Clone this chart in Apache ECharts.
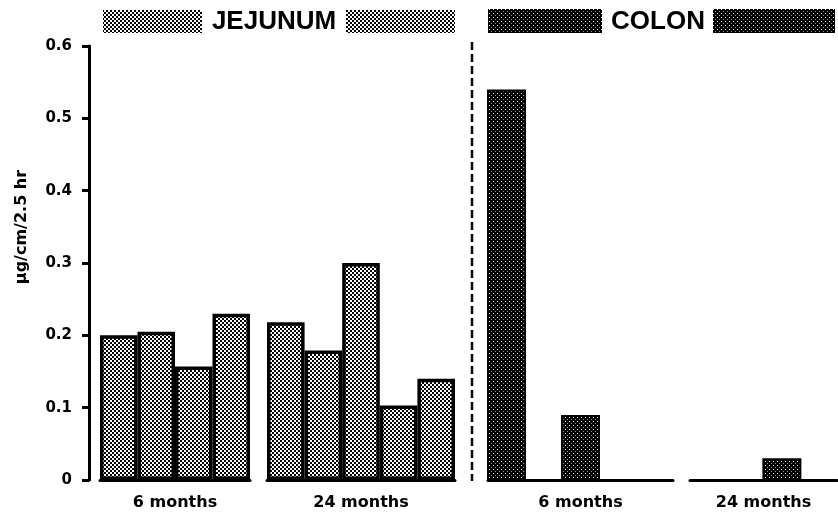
<!DOCTYPE html>
<html>
<head>
<meta charset="utf-8">
<script src="https://cdn.jsdelivr.net/npm/echarts/dist/echarts.min.js"></script>
<style>
  html, body { margin: 0; padding: 0; background: #fff; }
  #chart { width: 838px; height: 514px; }
</style>
</head>
<body>
<div id="chart"></div>
<script>
// Transport values (µg/cm/2.5 hr), one array per tissue and age group
const yMin = 0;
const yMax = 0.6;
const yStep = 0.1;
const groupNames = ['6 months', '24 months', '6 months', '24 months'];
const sectionTitles = ['JEJUNUM', 'COLON'];
const yAxisTitle = 'µg/cm/2.5 hr';

const jejunum6 = [0.200, 0.205, 0.157, 0.230];
const jejunum24 = [0.218, 0.179, 0.300, 0.103, 0.140];
const colon6 = [0.540, 0, 0.090, 0, 0];
const colon24 = [0, 0, 0.030, 0];

// Fill textures
function makePattern(draw, size) {
  const c = document.createElement('canvas');
  c.width = size; c.height = size;
  const ctx = c.getContext('2d');
  draw(ctx);
  return { image: c, repeat: 'repeat' };
}
const lightChecker = makePattern(ctx => {
  ctx.fillStyle = '#fff'; ctx.fillRect(0, 0, 4, 4);
  ctx.fillStyle = '#000';
  ctx.fillRect(0, 0, 2, 2);
  ctx.fillRect(2, 2, 2, 2);
}, 4);
const darkDots = makePattern(ctx => {
  ctx.fillStyle = '#000'; ctx.fillRect(0, 0, 4, 4);
  ctx.fillStyle = '#f0f0f0'; ctx.fillRect(1, 1, 1, 1);
  ctx.fillStyle = '#9a9a9a'; ctx.fillRect(3, 3, 1, 1);
}, 4);

const groups = [
  { data: jejunum6, left: 100, width: 150, fill: lightChecker, border: 3.5, barWidth: null },
  { data: jejunum24, left: 267, width: 188, fill: lightChecker, border: 3.5, barWidth: null },
  { data: colon6, left: 488, width: 185, fill: darkDots, border: 2, barWidth: 39 },
  { data: colon24, left: 690, width: 147, fill: darkDots, border: 2, barWidth: 39 }
];

const TOP = 46, BOTTOM = 34;
const tickFont = { fontFamily: 'DejaVu Sans', fontWeight: 'bold', color: '#000' };

const option = {
  animation: false,
  backgroundColor: '#fff',
  grid: groups.map(g => ({
    left: g.left, width: g.width, top: TOP, bottom: BOTTOM,
    containLabel: false, outerBoundsMode: 'none'
  })),
  xAxis: groups.map((g, i) => ({
    type: 'category',
    gridIndex: i,
    data: g.data.map((_, k) => String(k)),
    name: groupNames[i],
    nameLocation: 'middle',
    nameGap: 15,
    nameTextStyle: Object.assign({ fontSize: 16 }, tickFont),
    axisLine: { show: true, lineStyle: { color: '#000', width: 3 } },
    axisTick: { show: false },
    axisLabel: { show: false },
    splitLine: { show: false }
  })),
  yAxis: groups.map((g, i) => ({
    type: 'value',
    gridIndex: i,
    min: yMin,
    max: yMax,
    interval: yStep,
    show: i === 0,
    offset: 11,
    axisLine: { show: true, lineStyle: { color: '#000', width: 3 } },
    axisTick: { show: true, length: 7, lineStyle: { color: '#000', width: 3 } },
    axisLabel: Object.assign({
      fontSize: 15,
      margin: 17,
      formatter: v => (v === 0 ? '0' : v.toFixed(1))
    }, tickFont),
    splitLine: { show: false }
  })),
  series: groups.map((g, i) => {
    const s = {
      type: 'bar',
      xAxisIndex: i,
      yAxisIndex: i,
      data: g.data,
      barCategoryGap: '0%',
      itemStyle: { color: g.fill, borderColor: '#000', borderWidth: g.border }
    };
    if (g.barWidth) s.barWidth = g.barWidth;
    return s;
  }),
  graphic: [
    // y axis title
    {
      type: 'text', x: 22, y: 227, rotation: Math.PI / 2,
      style: {
        text: yAxisTitle, fill: '#000', font: 'bold 16px "DejaVu Sans"',
        align: 'center', verticalAlign: 'middle'
      }
    },
    // separator between the two tissues
    {
      type: 'line',
      shape: { x1: 472, y1: 42, x2: 472, y2: 481 },
      style: { stroke: '#000', lineWidth: 2.5, lineDash: [8, 4] }
    },
    // section headers
    { type: 'rect', shape: { x: 103, y: 10, width: 99, height: 23 }, style: { fill: lightChecker } },
    { type: 'rect', shape: { x: 346, y: 10, width: 109, height: 23 }, style: { fill: lightChecker } },
    {
      type: 'text', x: 274, y: 22,
      style: { text: sectionTitles[0], fill: '#000', font: 'bold 26px "Liberation Sans"', align: 'center', verticalAlign: 'middle' }
    },
    { type: 'rect', shape: { x: 488, y: 9, width: 114, height: 24 }, style: { fill: darkDots } },
    { type: 'rect', shape: { x: 713, y: 9, width: 122, height: 24 }, style: { fill: darkDots } },
    {
      type: 'text', x: 658, y: 22,
      style: { text: sectionTitles[1], fill: '#000', font: 'bold 26px "Liberation Sans"', align: 'center', verticalAlign: 'middle' }
    }
  ]
};

const chart = echarts.init(document.getElementById('chart'), null, { renderer: 'canvas' });
chart.setOption(option);
</script>
</body>
</html>
